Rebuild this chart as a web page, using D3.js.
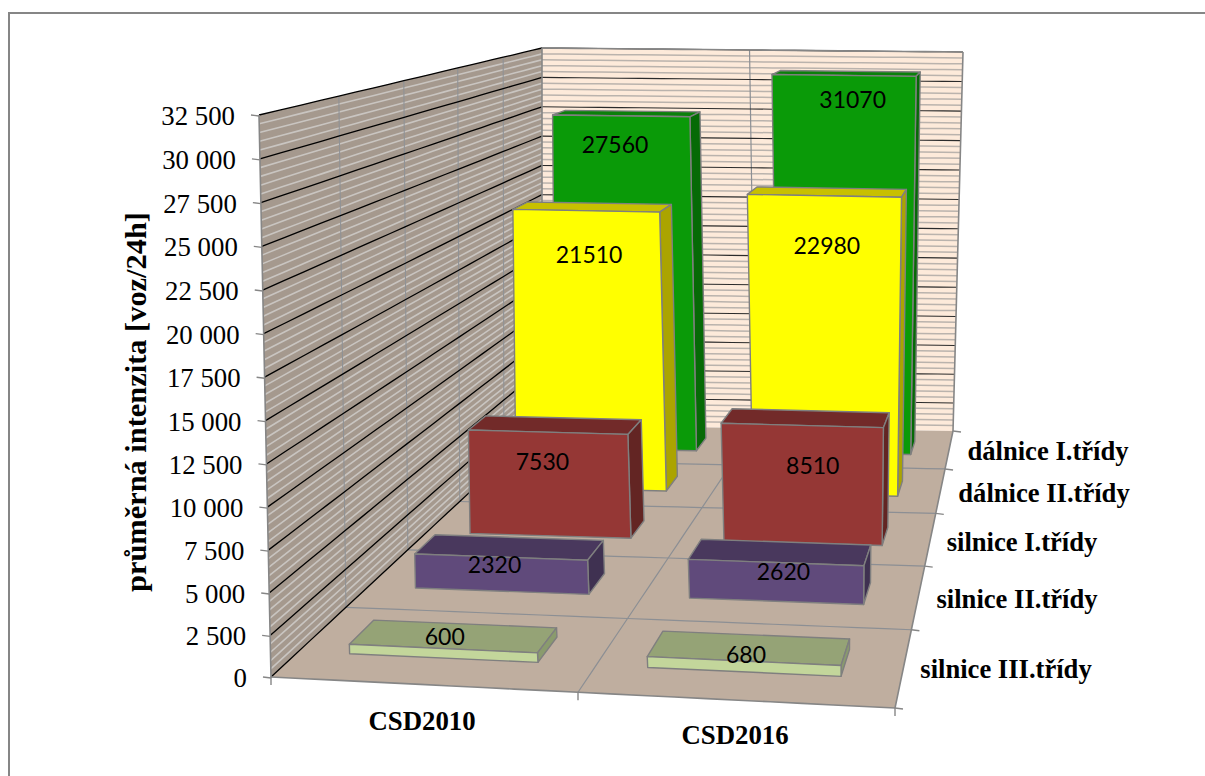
<!DOCTYPE html>
<html lang="cs">
<head>
<meta charset="utf-8">
<title>Průměrná intenzita dopravy</title>
<script src="https://cdn.jsdelivr.net/npm/d3@7/dist/d3.min.js"></script>
<style>
  html, body { margin: 0; padding: 0; background: #fff; }
  svg { display: block; }
  .serif { font-family: "Liberation Serif", serif; font-weight: 700; fill: #000; }
  .tick-label { font-family: "Liberation Serif", serif; font-size: 26.8px; fill: #000; }
  .value-label { font-family: Lato, "Noto Sans", sans-serif; font-size: 23px; fill: #000; text-anchor: middle; }
</style>
</head>
<body>
<svg id="chart" width="1205" height="776"></svg>
<script>
// Survey categories and road classes (front to back)
const surveys = ["CSD2010", "CSD2016"];
const roadClasses = ["silnice III.třídy", "silnice II.třídy", "silnice I.třídy", "dálnice II.třídy", "dálnice I.třídy"];

// Average daily traffic per road class
const values2010 = [600, 2320, 7530, 21510, 27560];
const values2016 = [680, 2620, 8510, 22980, 31070];

const yMax = 32500;
const yStep = 2500;
const minorStep = 500;
const axisTitle = "průměrná intenzita [voz/24h]";

// Face colours per road class: front, top, side
const faceFront = ["#c3d69b", "#604a7b", "#953735", "#ffff00", "#0a9a08"];
const faceTop = ["#95a376", "#49385d", "#722a29", "#c8c000", "#0a800a"];
const faceSide = ["#8a9b6d", "#3f3151", "#632523", "#aba400", "#066a06"];

const svg = d3.select("#chart");

// Perspective box: screen corners of the floor and ceiling planes, keyed by (x, depth)
const floorCorners = [[0, 0, 271, 677], [1, 0, 895, 708], [0, 1, 542, 425], [1, 1, 953, 431]];
const ceilingCorners = [[0, 0, 259, 115], [1, 0, 908, 142], [0, 1, 542, 48], [1, 1, 963, 52]];

// Solve the plane-to-screen homography through four corner pairs
function solveHomography(points) {
  const m = [];
  points.forEach(([x, z, u, v]) => {
    m.push([x, z, 1, 0, 0, 0, -u * x, -u * z, u]);
    m.push([0, 0, 0, x, z, 1, -v * x, -v * z, v]);
  });
  const n = 8;
  for (let i = 0; i < n; i++) {
    let p = i;
    for (let k = i + 1; k < n; k++) if (Math.abs(m[k][i]) > Math.abs(m[p][i])) p = k;
    [m[i], m[p]] = [m[p], m[i]];
    for (let k = 0; k < n; k++) {
      if (k === i) continue;
      const f = m[k][i] / m[i][i];
      for (let j = i; j <= n; j++) m[k][j] -= f * m[i][j];
    }
  }
  const h = d3.range(n).map(i => m[i][n] / m[i][i]);
  return (x, z) => {
    const w = h[6] * x + h[7] * z + 1;
    return [(h[0] * x + h[1] * z + h[2]) / w, (h[3] * x + h[4] * z + h[5]) / w];
  };
}
const floorPlane = solveHomography(floorCorners);
const ceilingPlane = solveHomography(ceilingCorners);

// Sideways foreshortening across the box width, stronger toward the back wall
const warpAmount = d3.scaleLinear().domain([0, 1]).range([0.1, 0.26]);
const widthWarp = (x, z) => x + warpAmount(z) * x * x * (1 - x);

// Box coordinates (x, height, depth), all in 0..1, to screen
function project(x, t, z) {
  const xw = widthWarp(x, z);
  const a = floorPlane(xw, z);
  const b = ceilingPlane(xw, z);
  return [a[0] + (b[0] - a[0]) * t, a[1] + (b[1] - a[1]) * t];
}

// Scales from data to the unit box; the slight exponent carries the vertical perspective
const yScale = d3.scalePow().exponent(1.015).domain([0, yMax]).range([0, 1]);
const yTicks = d3.range(0, yMax + 1, yStep);
const xBand = d3.scaleBand().domain(surveys).range([0, 1]).paddingInner(0.36).paddingOuter(0.195).align(0.47);
const zBand = d3.scaleBand().domain(roadClasses).range([0, 1]).paddingInner(0.65).paddingOuter(0.325).align(0.53);

const line = d3.line();
const closed = pts => line(pts) + "Z";

function segment(g, a, b, stroke, width) {
  const pts = d3.range(0, 1.001, 0.05).map(k => project(
    a[0] + (b[0] - a[0]) * k, a[1] + (b[1] - a[1]) * k, a[2] + (b[2] - a[2]) * k));
  g.append("path")
    .attr("d", line(pts))
    .attr("fill", "none")
    .attr("stroke", stroke)
    .attr("stroke-width", width);
}

// Walls and floor
const walls = svg.append("g");
walls.append("path").attr("fill", "#fdeada")
  .attr("d", closed([project(0, 0, 1), project(1, 0, 1), project(1, 1, 1), project(0, 1, 1)]));
walls.append("path").attr("fill", "#a5998e")
  .attr("d", closed([project(0, 0, 0), project(0, 0, 1), project(0, 1, 1), project(0, 1, 0)]));
walls.append("path").attr("fill", "#bfae9f")
  .attr("d", closed([project(0, 0, 0), project(1, 0, 0), project(1, 0, 1), project(0, 0, 1)]));

// Fine stripes of the wall pattern
d3.range(minorStep, yMax, minorStep).forEach(v => {
  if (v % yStep === 0) return;
  const t = yScale(v);
  segment(walls, [0, t, 1], [1, t, 1], "#bab3ad", 1.5);
  segment(walls, [0, t, 0], [0, t, 1], "#c9c5c1", 1.6);
});

// Grid lines across the floor and up the walls
const zTicks = d3.range(1, roadClasses.length).map(i => i / roadClasses.length);
zTicks.forEach(z => {
  segment(walls, [0, 0, z], [1, 0, z], "#8c8f94", 1.2);
  segment(walls, [0, 0, z], [0, 1, z], "#8f9296", 1.1);
});
segment(walls, [0.5, 0, 0], [0.5, 0, 1], "#8c8f94", 1.2);
segment(walls, [0.5, 0, 1], [0.5, 1, 1], "#8c8f94", 1.2);

// Value grid lines
yTicks.filter(v => v > 0).forEach(v => {
  const t = yScale(v);
  segment(walls, [0, t, 0], [0, t, 1], "#000", 1.3);
  segment(walls, [0, t, 1], [1, t, 1], "#2b2b2b", 1.1);
});
segment(walls, [0, 0, 0], [0, 0, 1], "#000", 1.3);

// Box edges
[
  [[0, 0, 0], [0, 1, 0]], [[0, 0, 0], [1, 0, 0]], [[1, 0, 0], [1, 0, 1]],
  [[0, 0, 1], [0, 1, 1]], [[1, 0, 1], [1, 1, 1]], [[0, 1, 1], [1, 1, 1]]
].forEach(([a, b]) => segment(walls, a, b, "#868686", 1.6));

// Bars, painted from the back of the box to the front
const seriesBySurvey = [values2010, values2016];
const bars = svg.append("g");
const barEdge = { stroke: "#7f7f7f", "stroke-width": 1.4, "stroke-linejoin": "round" };

function drawBar(surveyIdx, classIdx) {
  const value = seriesBySurvey[surveyIdx][classIdx];
  const x0 = xBand(surveys[surveyIdx]);
  const x1 = x0 + xBand.bandwidth();
  const z0 = zBand(roadClasses[classIdx]);
  const z1 = z0 + zBand.bandwidth();
  const t = yScale(value);
  const faces = [
    [faceTop, [[x0, t, z0], [x1, t, z0], [x1, t, z1], [x0, t, z1]]],
    [faceSide, [[x1, 0, z0], [x1, 0, z1], [x1, t, z1], [x1, t, z0]]],
    [faceFront, [[x0, 0, z0], [x1, 0, z0], [x1, t, z0], [x0, t, z0]]]
  ];
  faces.forEach(([palette, corners]) => {
    const face = bars.append("path")
      .attr("d", closed(corners.map(c => project(...c))))
      .attr("fill", palette[classIdx]);
    Object.entries(barEdge).forEach(([k, v]) => face.attr(k, v));
  });
}
d3.range(roadClasses.length - 1, -1, -1).forEach(c => {
  surveys.forEach((_, s) => drawBar(s, c));
});

// Value labels: anchored at the top of each front face, with a per-bar nudge
const labelNudge = [
  [[3, -12], [-5, 8], [-4, 30], [5, 44], [-4, 29]],
  [[1, -6], [6, 9], [9, 41], [1, 50], [7, 25]]
];
const labels = svg.append("g");
surveys.forEach((survey, s) => {
  roadClasses.forEach((rc, c) => {
    const value = seriesBySurvey[s][c];
    const xm = xBand(survey) + xBand.bandwidth() / 2;
    const zm = zBand(rc);
    const [px, py] = project(xm, yScale(value), zm);
    labels.append("text")
      .attr("class", "value-label")
      .attr("x", px + labelNudge[s][c][0])
      .attr("y", py + labelNudge[s][c][1] + 8)
      .text(value);
  });
});

// Axis ticks and labels
const axis = svg.append("g");
const tickFmt = v => d3.format(",")(v).replace(/,/g, " ");
yTicks.forEach(v => {
  const [px, py] = project(0, yScale(v), 0);
  axis.append("line").attr("x1", px - 8).attr("x2", px).attr("y1", py).attr("y2", py + 1)
    .attr("stroke", "#868686").attr("stroke-width", 1.4);
  axis.append("text").attr("class", "tick-label").attr("text-anchor", "end")
    .attr("x", px - 24).attr("y", py + 10).text(tickFmt(v));
});
[0, 0.5, 1].forEach(x => {
  const [px, py] = project(x, 0, 0);
  axis.append("line").attr("x1", px).attr("x2", px).attr("y1", py).attr("y2", py + 8)
    .attr("stroke", "#868686").attr("stroke-width", 1.4);
});
d3.range(0, roadClasses.length + 1).forEach(i => {
  const [px, py] = project(1, 0, i / roadClasses.length);
  axis.append("line").attr("x1", px).attr("x2", px + 8).attr("y1", py).attr("y2", py + 1)
    .attr("stroke", "#868686").attr("stroke-width", 1.4);
});

// Category captions
const surveyCaption = [[422, 721], [735, 735]];
surveys.forEach((s, i) => {
  axis.append("text").attr("class", "serif").attr("font-size", 26.8).attr("text-anchor", "middle")
    .attr("x", surveyCaption[i][0]).attr("y", surveyCaption[i][1] + 9).text(s);
});
const classCaption = [[1006, 670], [1017, 600], [1022, 543], [1044, 494], [1048, 452]];
roadClasses.forEach((r, i) => {
  axis.append("text").attr("class", "serif").attr("font-size", 26.6).attr("text-anchor", "middle")
    .attr("x", classCaption[i][0]).attr("y", classCaption[i][1] + 8).text(r);
});

// Rotated axis title
axis.append("text").attr("class", "serif").attr("font-size", 30.4).attr("text-anchor", "middle")
  .attr("transform", "translate(146,402) rotate(-90)").text(axisTitle);

// Chart area frame
svg.append("path").attr("d", line([[9, 776], [9, 13], [1205, 13]]))
  .attr("fill", "none").attr("stroke", "#868686").attr("stroke-width", 2);
</script>
</body>
</html>
